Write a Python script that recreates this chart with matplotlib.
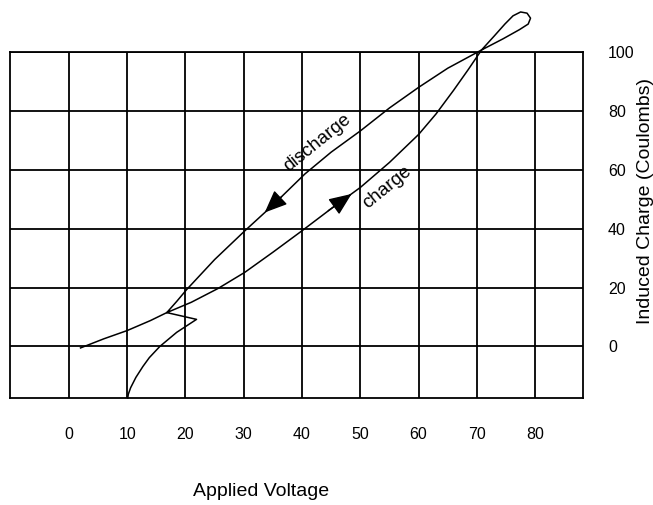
import matplotlib
matplotlib.use("Agg")
import matplotlib.pyplot as plt

plt.rcParams["font.family"] = ["Liberation Sans", "DejaVu Sans"]

# one continuous trace: start -> charge -> loop at the top -> discharge -> kink -> tail at the bottom
voltage = [2.0, 6.0, 10.0, 14.0, 16.8,
           21.0, 25.6, 30.2, 35.0, 40.0, 45.0, 50.0, 55.0, 60.0, 63.0, 66.0, 68.5, 70.8,
           73.0, 74.8, 76.2, 77.5, 78.6, 79.2, 78.8, 77.3, 74.5, 70.8,
           65.0, 60.0, 55.0, 50.0, 45.0, 40.5, 35.0, 30.2, 25.0, 20.2, 18.5, 16.8,
           21.9, 18.5, 15.6, 13.8, 12.7, 11.5, 10.6, 10.2, 10.1]
charge = [-0.5, 2.6, 5.4, 8.8, 11.5,
          15.0, 19.7, 25.2, 32.0, 39.3, 46.8, 54.0, 62.5, 72.0, 79.0, 87.0, 94.0, 100.7,
          105.5, 109.5, 112.3, 113.6, 113.2, 111.5, 109.5, 107.6, 104.5, 100.7,
          94.5, 88.0, 81.0, 73.2, 66.0, 58.6, 48.0, 39.3, 29.5, 19.3, 15.3, 11.5,
          9.2, 4.8, 0.0, -3.8, -6.8, -10.5, -14.0, -16.2, -17.5]

x_ticks = [0, 10, 20, 30, 40, 50, 60, 70, 80]
y_ticks = [0, 20, 40, 60, 80, 100]

fig = plt.figure(figsize=(6.53, 5.05), dpi=100)
ax = fig.add_axes([0.0153, 0.2119, 0.8775, 0.6851])

ax.plot(voltage, charge, color="black", lw=1.1, solid_joinstyle="round", clip_on=False)

# direction arrows
ax.annotate("", xy=(33.6, 45.5), xytext=(36.5, 50.9),
            arrowprops=dict(arrowstyle="-|>,head_length=1.0,head_width=0.42",
                            mutation_scale=14, color="black", lw=1, shrinkA=0, shrinkB=0))
ax.annotate("", xy=(48.5, 51.8), xytext=(44.5, 46.1),
            arrowprops=dict(arrowstyle="-|>,head_length=1.0,head_width=0.42",
                            mutation_scale=14, color="black", lw=1, shrinkA=0, shrinkB=0))

ax.text(42.6, 69.2, "discharge", rotation=39, fontsize=13.5, ha="center", va="center")
ax.text(54.6, 54.2, "charge", rotation=39, fontsize=13.5, ha="center", va="center")

ax.set_xlim(-10.1, 88.2)
ax.set_ylim(-17.5, 100)
ax.set_xticks(x_ticks)
ax.set_yticks(y_ticks)
ax.yaxis.tick_right()
ax.tick_params(axis="x", length=0, pad=21, labelsize=11.5)
ax.tick_params(axis="y", length=0, pad=18, labelsize=11.5)
ax.grid(True, color="black", lw=1.3)
for s in ax.spines.values():
    s.set_linewidth(1.3)

fig.text(0.4005, 0.026, "Applied Voltage", fontsize=14, ha="center", va="center")
fig.text(0.988, 0.602, "Induced Charge (Coulombs)", fontsize=14, rotation=90,
         ha="center", va="center")

fig.savefig("out.png", dpi=100)
